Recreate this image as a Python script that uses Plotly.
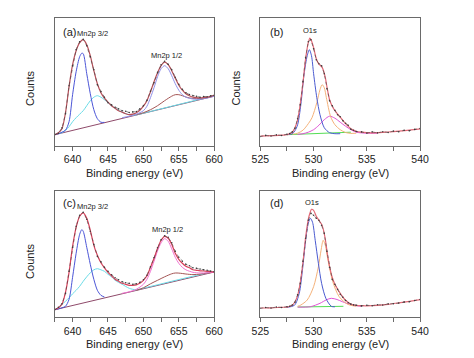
import plotly.graph_objects as go

# ---------------- Mn2p panels (a) & (c) ----------------
MN_X = [637.5, 638, 638.5, 639, 639.5, 640, 640.5, 641, 641.5, 642, 642.5, 643, 643.5, 644,
        644.5, 645, 645.5, 646, 646.5, 647, 647.5, 648, 648.5, 649, 649.5, 650, 650.5, 651,
        651.5, 652, 652.5, 653, 653.5, 654, 654.5, 655, 655.5, 656, 656.5, 657, 657.5, 658,
        658.5, 659, 659.5, 660]
FIT_A = [11, 13, 17, 33, 59, 81, 95, 103, 106, 101, 90, 75, 62, 53, 47.5, 43.5, 40, 37.5, 35,
         33.5, 32, 31, 31.5, 33, 35.5, 39.5, 45, 54, 64, 73, 80, 83.5, 81, 75, 67.5, 60.5, 55.5,
         52, 50, 48.5, 48, 47.8, 48, 48.6, 49.4, 50.5]
DATA_A = [11.2, 12.5, 17.8, 32, 60, 80, 96, 104, 106.5, 100, 89, 76, 61, 54, 48.5, 43, 40.8,
          38.5, 36.8, 35, 34.5, 33.2, 33.8, 34.2, 36.8, 40, 45.5, 54.5, 63, 73.5, 81, 84.5, 81.5,
          76, 68.5, 61.5, 56.5, 53, 51.2, 50, 49.5, 48.5, 49.2, 49, 50, 50.3]
FIT_C = [7.6, 9.5, 13, 25, 45, 71, 90, 101, 104.5, 99, 87, 72, 62, 54.5, 49.5, 45, 41.5, 38, 36,
         34, 33, 32, 32, 32.5, 34, 37, 41.5, 50, 59, 69, 77, 81, 79, 73, 64, 58, 54, 51, 49.5,
         47.5, 47, 46.5, 46.3, 46, 45.6, 45.3]
DATA_C = [7.8, 10, 13.5, 24, 46, 70, 91, 102, 105, 98, 86, 73, 61, 55.5, 50, 46, 42.5, 39.5,
          37.5, 35.5, 34.5, 34, 33, 33.5, 35, 37.5, 42, 50.5, 59.5, 69.5, 77.5, 81.5, 80, 74.5,
          66, 60, 56, 53, 51.5, 49.5, 49, 48.2, 47.5, 47, 46.2, 45.5]

BASE_X = [637.5, 660]
BASE_A = [11, 49.5]
BASE_C = [7.6, 45.3]

BLUE_MN_X = [637.5, 638, 638.5, 639, 639.5, 640, 640.5, 641, 641.3, 641.5, 642, 642.5, 643,
             643.5, 644, 644.5]
BLUE_A = [11, 12, 13.5, 15.5, 24, 51, 74, 89, 92.5, 92, 72, 52, 36, 27, 23.5, 23.3]
BLUE_C = [7.6, 8.4, 9.5, 11, 18, 40, 64, 83, 87.6, 86, 70, 53, 38, 27, 22, 20.3]

CYAN_X = [638, 638.5, 639, 639.5, 640, 640.5, 641, 641.5, 642, 642.5, 643, 643.5, 644, 644.5,
          645, 645.5, 646, 647, 648, 649, 650, 652, 654, 656, 658, 660]
CYAN_A = [12, 13, 15.5, 19, 24, 28, 31.5, 35, 40, 45, 48.5, 50, 48.5, 46, 43, 40, 37.5, 33.5,
          31, 30.8, 32.5, 36, 39.5, 43, 46.5, 50]
CYAN_C = [9, 13, 16, 19.5, 23.5, 27, 31, 36, 40.5, 44.5, 47.5, 48.6, 47.5, 46, 43, 40.5, 37,
          33, 29, 27.5, 29.2, 32.5, 36, 39.4, 42.7, 46]

MAIN12_X = [647, 648, 649, 650, 650.5, 651, 651.5, 652, 652.5, 653, 653.5, 654, 654.5, 655,
            655.5, 656, 657, 658, 659, 660]
MAIN12_A = [28, 29.5, 31.5, 35, 39.5, 48, 58, 69, 77, 80, 77, 70, 62, 55.5, 51, 48.5, 46.7,
            46.6, 47.7, 49.5]
MAIN12_C = [24, 25.5, 28, 33, 38, 46, 56, 66.5, 74.5, 78.6, 76, 68.5, 60, 54, 50, 47.5, 45,
            44.3, 44.5, 45.3]

SAT_X = [649, 650, 651, 652, 653, 654, 654.5, 655, 655.5, 656, 657, 658, 659, 660]
SAT_A = [31, 33, 36, 40, 45, 49.5, 51, 51, 50, 48.7, 47.2, 47.2, 48.2, 50]
SAT_C = [27, 29.5, 33.5, 37, 40.5, 43.5, 44.3, 44.2, 43.8, 43.3, 42.7, 43.2, 44.2, 45.3]

# ---------------- O1s panels (b) & (d) ----------------
O_X = [525, 526, 527, 527.5, 528, 528.25, 528.5, 528.75, 529, 529.25, 529.5, 529.65, 529.8,
       530, 530.25, 530.5, 530.75, 530.9, 531.1, 531.3, 531.5, 531.75, 532, 532.5, 533, 533.5,
       534, 534.5, 535, 536, 537, 538, 539, 540]
FIT_B = [9.5, 10, 10.5, 11, 13.5, 18, 26, 42, 63, 87, 103, 107.5, 105, 98, 87, 81.5, 79, 76,
         68, 56, 46, 39.5, 35, 28.5, 22, 17, 14.5, 13.5, 13, 13, 13.7, 14.5, 15.5, 16.8]
FIT_D = [9.3, 9.5, 10, 10.2, 12, 15.5, 22, 35, 55, 80, 98, 104, 108, 107, 101, 97, 93, 88.5,
         78, 63, 51, 40, 33, 24, 17, 13.3, 12, 11.6, 11.5, 12, 13, 14.5, 16, 17.7]

D_OX = [525, 525.5, 526, 526.5, 527, 527.5, 527.75, 528, 528.25, 528.5, 528.75, 529, 529.25,
        529.5, 529.75, 530, 530.25, 530.5, 530.75, 531, 531.25, 531.5, 531.75, 532, 532.25,
        532.5, 532.75, 533, 533.25, 533.5, 533.75, 534, 534.5, 535, 535.5, 536, 536.5, 537,
        537.5, 538, 538.5, 539, 539.5, 540]
DATA_B = [9.2, 10.3, 9.6, 10.8, 10.2, 11.4, 12.2, 13.8, 17.5, 27, 41, 64, 88, 104, 106, 97, 86,
          82, 80, 72, 57, 45, 40, 35.5, 31, 29, 25, 22.5, 20.5, 16.5, 15.5, 14.2, 13.8, 12.6,
          13.8, 12.8, 14, 13.2, 14.6, 14, 15.4, 15, 16.3, 17.2]
DATA_D = [9, 9.8, 9.2, 10.3, 9.8, 10.5, 11, 12.3, 15, 22.5, 34, 56, 79, 97, 104, 102, 99, 97,
          92, 84, 66, 50, 38, 33, 28, 23, 20, 16.8, 14.5, 13.2, 12.4, 12.1, 11.4, 12, 11.6,
          12.6, 12.2, 13.4, 13.6, 14.2, 15.4, 15.6, 16.8, 17.8]

BLUE_B_X = [527.5, 528, 528.25, 528.5, 528.8, 529.1, 529.4, 529.6, 529.8, 530, 530.3, 530.6,
            531, 531.5, 532, 532.5]
BLUE_B = [11, 12, 15, 21, 41, 71, 90, 96, 90, 72, 48, 31, 18, 13, 12, 12]
ORANGE_B_X = [528, 528.5, 529, 529.5, 529.85, 530.3, 530.6, 530.8, 531, 531.2, 531.6, 532,
              532.5, 533, 533.5, 534]
ORANGE_B = [11.5, 12.5, 15.5, 22, 28, 43, 56, 61, 58, 48, 29, 21, 16, 13.2, 12.3, 12.5]
MAG_B_X = [528.5, 529, 529.5, 530, 530.5, 531, 531.5, 532, 532.5, 533, 533.5, 534, 534.5, 535,
           536]
MAG_B = [11.3, 12, 13.5, 16, 20.5, 26, 29.5, 27.5, 23.5, 19.5, 16, 13.5, 12.8, 12.5, 12.5]
GREEN_B_X = [527.5, 533.5]
GREEN_B = [11, 13.5]

BLUE_D_X = [527.5, 528.2, 528.65, 528.95, 529.25, 529.5, 529.7, 529.9, 530.15, 530.45, 530.75,
            531.15, 531.66, 532]
BLUE_D = [10, 12, 24, 47, 77, 94, 99, 95, 77, 54, 34, 19, 11, 10.5]
ORANGE_D_X = [528.5, 528.8, 529.4, 530, 530.45, 530.7, 530.9, 531.1, 531.35, 531.8, 532.4,
              533.2, 534]
ORANGE_D = [11, 12.3, 17.3, 30.6, 50.6, 67, 77, 72, 57.3, 35.6, 20.6, 13, 11]
MAG_D_X = [528.5, 529.7, 530.6, 531.2, 531.66, 532.2, 532.7, 533.6, 534.5]
MAG_D = [10.2, 10.6, 14, 17.5, 19, 17.8, 15.6, 12.3, 11]
GREEN_D_X = [528.5, 532.8]
GREEN_D = [10.3, 11]

MN_TICKS = [640, 645, 650, 655, 660]
O_TICKS = [525, 530, 535, 540]

# ---------------- figure ----------------
W, H = 474, 358
fig = go.Figure()


def line(x, y, color, ax, width=1.0, dash="solid"):
    fig.add_trace(go.Scatter(x=x, y=y, mode="lines", xaxis="x" + ax, yaxis="y" + ax,
                             line=dict(color=color, width=width, dash=dash, shape="spline",
                                       smoothing=0.8),
                             hoverinfo="skip", showlegend=False))


def data(x, y, ax):
    fig.add_trace(go.Scatter(x=x, y=y, mode="lines+markers", xaxis="x" + ax, yaxis="y" + ax,
                             line=dict(color="#444444", width=0.6, dash="dot"),
                             marker=dict(color="#3a3a3a", size=1.6),
                             hoverinfo="skip", showlegend=False))


# (a)
line(BASE_X, BASE_A, "#8e4a6a", "")
line(CYAN_X, CYAN_A, "#6adbe6", "")
line(BLUE_MN_X, BLUE_A, "#4b55d6", "")
line(SAT_X, SAT_A, "#a35555", "")
line(MAIN12_X, MAIN12_A, "#8f8fe8", "")
line(MN_X, FIT_A, "#b8505a", "", 1.2)
data(MN_X, DATA_A, "")
# (b)
line(GREEN_B_X, GREEN_B, "#55dd55", "2")
line(MAG_B_X, MAG_B, "#e055d5", "2")
line(ORANGE_B_X, ORANGE_B, "#f5b27a", "2")
line(BLUE_B_X, BLUE_B, "#4a5ad0", "2")
line(O_X, FIT_B, "#e46a78", "2", 1.2)
data(D_OX, DATA_B, "2")
# (c)
line(BASE_X, BASE_C, "#8e4a6a", "3")
line(CYAN_X, CYAN_C, "#6adbe6", "3")
line(BLUE_MN_X, BLUE_C, "#4b55d6", "3")
line(SAT_X, SAT_C, "#a35555", "3")
line(MAIN12_X, MAIN12_C, "#f070d0", "3")
line(MN_X, FIT_C, "#d8405a", "3", 1.2)
data(MN_X, DATA_C, "3")
# (d)
line(GREEN_D_X, GREEN_D, "#55dd55", "4")
line(MAG_D_X, MAG_D, "#e055d5", "4")
line(ORANGE_D_X, ORANGE_D, "#f5b27a", "4")
line(BLUE_D_X, BLUE_D, "#4a5ad0", "4")
line(O_X, FIT_D, "#e46a78", "4", 1.2)
data(D_OX, DATA_D, "4")


def px(x):
    return x / W


def py(y):
    return 1 - y / H


FONT = "Liberation Sans, Arial, sans-serif"
frame = dict(showline=True, linecolor="#6a6a6a", linewidth=1, mirror=True, showgrid=False,
             zeroline=False)


def xaxis(domain, rng, ticks, anchor):
    return dict(domain=domain, range=rng, anchor=anchor, tickvals=ticks,
                ticks="outside", ticklen=4, tickwidth=1, tickcolor="#6a6a6a",
                minor=dict(dtick=2.5, ticks="outside", ticklen=4, tickcolor="#6a6a6a",
                           tick0=rng[0] if rng[0] == 525 else 640),
                tickfont=dict(family=FONT, size=10.5, color="#222"), **frame)


def yaxis(domain, top, anchor):
    return dict(domain=domain, range=[0, top], anchor=anchor, showticklabels=False,
                ticks="", **frame)


XL = [px(47.7), px(213.3)]
XR = [px(261.3), px(427.3)]
YT = [py(145.7), py(18.3)]
YB = [py(317.3), py(190.7)]

annots = []


def ann(text, x, y, size, angle=0):
    annots.append(dict(text=text, x=px(x), y=py(y), xref="paper", yref="paper",
                       xanchor="center", yanchor="middle", showarrow=False, textangle=angle,
                       font=dict(family=FONT, size=size, color="#222")))


ann("Counts", 21.7, 88, 11, -90)
ann("Counts", 235.5, 88, 11, -90)
ann("Counts", 21.7, 261, 11, -90)
ann("Binding energy (eV)", 130.5, 172.7, 11)
ann("Binding energy (eV)", 344.3, 172.7, 11)
ann("Binding energy (eV)", 130.5, 343.7, 11)
ann("Binding energy (eV)", 344.3, 343.7, 11)
ann("(a)", 63, 32, 11)
ann("Mn2p 3/2", 86.5, 33.5, 7.5)
ann("Mn2p 1/2", 163.5, 55.5, 7.5)
ann("(b)", 278, 32, 11)
ann("O1s", 313, 30.7, 7.5)
ann("(c)", 63, 203, 11)
ann("Mn2p 3/2", 86.5, 206, 7.5)
ann("Mn2p 1/2", 164.3, 229.7, 7.5)
ann("(d)", 278, 203.3, 11)
ann("O1s", 315, 202, 7.5)

fig.update_layout(
    width=W, height=H, margin=dict(l=0, r=0, t=0, b=0),
    paper_bgcolor="white", plot_bgcolor="white", showlegend=False,
    xaxis=xaxis(XL, [637.5, 660], MN_TICKS, "y"),
    yaxis=yaxis(YT, 127.4, "x"),
    xaxis2=xaxis(XR, [525, 540], O_TICKS, "y2"),
    yaxis2=yaxis(YT, 127.4, "x2"),
    xaxis3=xaxis(XL, [637.5, 660], MN_TICKS, "y3"),
    yaxis3=yaxis(YB, 126.6, "x3"),
    xaxis4=xaxis(XR, [525, 540], O_TICKS, "y4"),
    yaxis4=yaxis(YB, 126.6, "x4"),
    annotations=annots,
)

fig.write_html("out.html", config={"displayModeBar": False},
               post_script="document.body.style.margin='0';document.body.style.padding='0';")
